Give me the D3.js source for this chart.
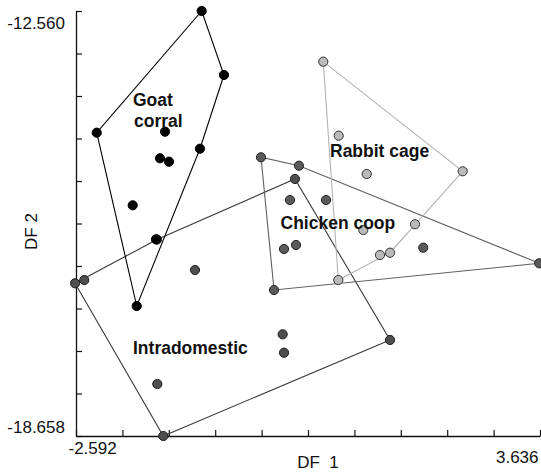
<!DOCTYPE html>
<html>
<head>
<meta charset="utf-8">
<script src="https://cdn.jsdelivr.net/npm/d3@7"></script>
<style>
  body { margin: 0; background: #fff; }
  svg { display: block; font-family: "Liberation Sans", Arial, sans-serif; }
</style>
</head>
<body>
<svg id="chart" width="541" height="473"></svg>
<script>
// DF1 / DF2 scores, one array per group
const goat = [
  [-0.905, -12.560], [-0.606, -13.478], [-2.314, -14.306], [-1.397, -14.292],
  [-0.928, -14.536], [-1.465, -14.673], [-1.344, -14.722], [-1.831, -15.348],
  [-1.518, -15.836], [-1.777, -16.793]
];
const intradomestic = [
  [-2.605, -16.467], [-2.481, -16.420], [-1.505, -15.839], [0.347, -14.970],
  [-0.995, -16.276], [1.623, -17.280], [-1.420, -18.658], [-1.501, -17.912],
  [0.182, -17.199], [0.200, -17.463]
];
const chicken = [
  [-0.109, -14.659], [0.401, -14.780], [3.626, -16.180], [0.066, -16.563],
  [0.280, -15.272], [0.764, -15.272], [0.200, -15.975], [0.361, -15.917],
  [2.069, -15.956]
];
const rabbit = [
  [0.727, -13.287], [0.934, -14.349], [1.310, -14.899], [2.598, -14.860],
  [1.264, -15.702], [1.958, -15.620], [1.488, -16.061], [1.623, -16.028],
  [0.929, -16.420]
];

const xDomain = [-2.592, 3.636];
const yDomain = [-18.658, -12.560];
const xTickLabels = ["-2.592", "3.636"];
const yTickLabels = ["-18.658", "-12.560"];

const svg = d3.select("#chart");

const x = d3.scaleLinear().domain(xDomain).range([76, 540]);
const y = d3.scaleLinear().domain(yDomain).range([436, 11]);

const xTicks = d3.range(11).map(i => xDomain[0] + i * (xDomain[1] - xDomain[0]) / 10);
const yTicks = d3.range(11).map(i => yDomain[0] + i * (yDomain[1] - yDomain[0]) / 10);

// groups: hull colour, point fill, point stroke
const groups = [
  { pts: intradomestic, line: "#383838", fill: "#4e4e4e", stroke: "#1e1e1e" },
  { pts: chicken, line: "#5e5e5e", fill: "#5a5a5a", stroke: "#222" },
  { pts: rabbit, line: "#b4b4b4", fill: "#bababa", stroke: "#333" },
  { pts: goat, line: "#000", fill: "#000", stroke: "#000" }
];

// axes
const xAxis = svg.append("g")
  .attr("transform", "translate(0,436)")
  .call(d3.axisBottom(x).tickValues(xTicks).tickSize(-6).tickSizeOuter(0)
    .tickFormat((d, i) => i == 0 ? xTickLabels[0] : i == 10 ? xTickLabels[1] : ""));

const yAxis = svg.append("g")
  .attr("transform", "translate(76,0)")
  .call(d3.axisLeft(y).tickValues(yTicks).tickSize(-6).tickSizeOuter(0)
    .tickFormat((d, i) => i == 0 ? yTickLabels[0] : i == 10 ? yTickLabels[1] : ""));

[xAxis, yAxis].forEach(a => {
  a.select(".domain").attr("stroke", "#111").attr("stroke-width", 1.3);
  a.selectAll(".tick line").attr("stroke", "#111").attr("stroke-width", 1.2);
  a.selectAll("text").attr("font-size", 17).attr("fill", "#111")
    .attr("font-family", "Liberation Sans, Arial, sans-serif");
});

xAxis.selectAll(".tick text")
  .attr("dy", null)
  .attr("text-anchor", (d, i) => i == 0 ? "start" : "end")
  .attr("x", (d, i) => i == 0 ? -8 : -2)
  .attr("y", (d, i) => i == 0 ? 18 : 27);
yAxis.selectAll(".tick text")
  .attr("x", -11)
  .attr("dy", (d, i) => i == 0 ? "-0.2em" : "1.05em");

svg.append("text")
  .attr("x", 318).attr("y", 468)
  .attr("text-anchor", "middle")
  .attr("font-size", 17).attr("fill", "#111")
  .style("white-space", "pre")
  .text("DF  1");

svg.append("text")
  .attr("transform", "translate(37,231.5) rotate(-90)")
  .attr("text-anchor", "middle")
  .attr("font-size", 17).attr("fill", "#111")
  .text("DF 2");

// hulls
const line = d3.line().x(d => x(d[0])).y(d => y(d[1])).curve(d3.curveLinearClosed);
svg.append("g").selectAll("path")
  .data(groups)
  .join("path")
  .attr("d", g => line(d3.polygonHull(g.pts)))
  .attr("fill", "none")
  .attr("stroke", g => g.line)
  .attr("stroke-width", 1.1);

// points
groups.forEach(g => {
  svg.append("g").selectAll("circle")
    .data(g.pts)
    .join("circle")
    .attr("cx", d => x(d[0]))
    .attr("cy", d => y(d[1]))
    .attr("r", 4.6)
    .attr("fill", g.fill)
    .attr("stroke", g.stroke)
    .attr("stroke-width", 1);
});

// group labels
const labels = [
  { text: "Goat", x: 133, y: 106 },
  { text: "corral", x: 134, y: 126.5 },
  { text: "Rabbit cage", x: 330, y: 157 },
  { text: "Chicken coop", x: 280.5, y: 228.5 },
  { text: "Intradomestic", x: 133, y: 354 }
];
svg.append("g").selectAll("text")
  .data(labels)
  .join("text")
  .attr("x", d => d.x)
  .attr("y", d => d.y)
  .attr("font-size", 17.5)
  .attr("font-weight", "bold")
  .attr("fill", "#111")
  .text(d => d.text);
</script>
</body>
</html>
